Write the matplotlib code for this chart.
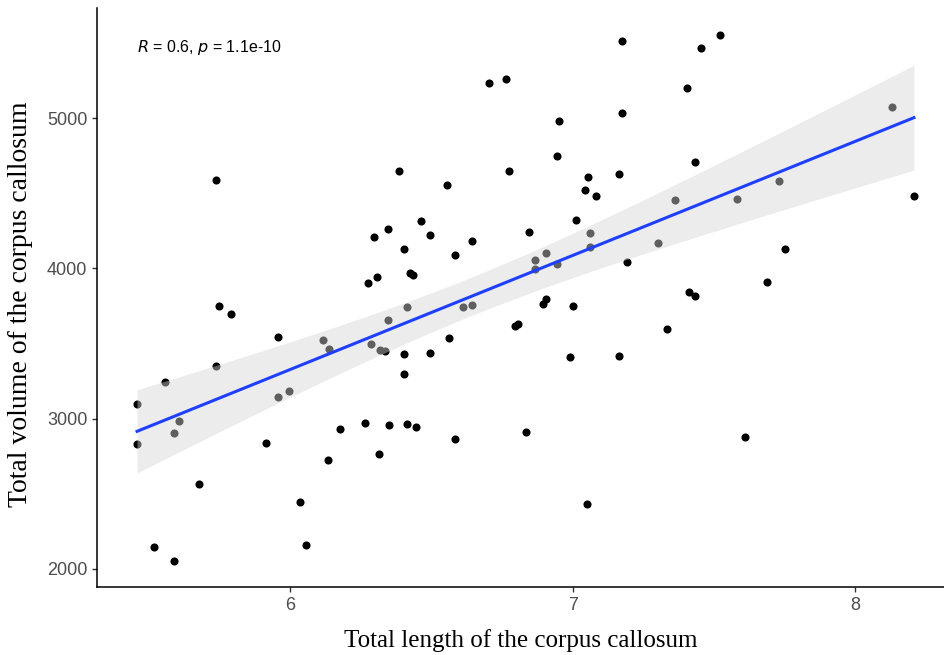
import numpy as np
import matplotlib

matplotlib.use("Agg")
import matplotlib.pyplot as plt

# corpus callosum length (x) and volume (y)
length = [
    5.457, 5.457, 5.556, 5.517, 5.588, 5.588, 5.605, 5.676, 5.736, 5.747,
    5.736, 5.789, 5.913, 5.956, 5.956, 5.995, 6.034, 6.055, 6.115, 6.136,
    6.133, 6.175, 6.264, 6.274, 6.296, 6.306, 6.285, 6.317, 6.335, 6.313,
    6.345, 6.345, 6.349, 6.384, 6.402, 6.402, 6.402, 6.412, 6.412, 6.423,
    6.434, 6.444, 6.462, 6.494, 6.494, 6.554, 6.561, 6.582, 6.582, 6.611,
    6.642, 6.642, 6.703, 6.763, 6.773, 6.795, 6.805, 6.834, 6.844, 6.865,
    6.865, 6.894, 6.904, 6.904, 6.943, 6.943, 6.950, 6.989, 7.000, 7.011,
    7.042, 7.050, 7.053, 7.060, 7.060, 7.081, 7.163, 7.163, 7.173, 7.173,
    7.191, 7.301, 7.333, 7.361, 7.404, 7.412, 7.432, 7.432, 7.454, 7.520,
    7.581, 7.609, 7.687, 7.729, 7.750, 8.129, 8.207,
]
volume = [
    3097, 2831, 3244, 2146, 2053, 2904, 2984, 2565, 4588, 3749,
    3350, 3696, 2838, 3543, 3144, 3184, 2446, 2160, 3523, 3463,
    2725, 2931, 2971, 3902, 4208, 3942, 3496, 3456, 3450, 2765,
    4262, 3656, 2958, 4647, 3430, 3297, 4128, 3743, 2964, 3969,
    3955, 2944, 4315, 4222, 3437, 4554, 3536, 4089, 2864, 3743,
    3756, 4182, 5233, 5259, 4647, 3616, 3629, 2911, 4242, 4055,
    3995, 3763, 3796, 4102, 4029, 4747, 4980, 3410, 3749, 4321,
    4521, 2433, 4607, 4235, 4142, 4481, 4627, 3417, 5512, 5033,
    4042, 4168, 3596, 4454, 5200, 3842, 3816, 4707, 5466, 5552,
    4461, 2878, 3909, 4581, 4128, 5073, 4481,
]
annot = "$R$ = 0.6, $p$ = 1.1e-10"
xticks = [6, 7, 8]
yticks = [2000, 3000, 4000, 5000]

x = np.array(length)
y = np.array(volume)

# linear fit + 95% confidence band (like geom_smooth(method = "lm"))
n = len(x)
b, a = np.polyfit(x, y, 1)
resid = y - (a + b * x)
s = np.sqrt((resid ** 2).sum() / (n - 2))
sxx = ((x - x.mean()) ** 2).sum()
t975 = 1.985
xs = np.linspace(x.min(), x.max(), 100)
fit = a + b * xs
half = t975 * s * np.sqrt(1 / n + (xs - x.mean()) ** 2 / sxx)

fig = plt.figure(figsize=(9.45, 6.55), dpi=100)
ax = fig.add_axes([0.1026, 0.1038, 0.8974, 0.884])

ax.scatter(x, y, s=34, color="black", linewidths=0, zorder=2)
# band drawn over the points, so points inside it look grey
ax.fill_between(xs, fit - half, fit + half, color="#d5d5d5", alpha=0.45,
                linewidth=0, zorder=3)
ax.plot(xs, fit, color="#1f3fff", lw=2.2, zorder=4)

ax.text(x.min(), 5470, annot, fontsize=11.5, family="Liberation Sans",
        color="black", ha="left", va="center")

ax.set_xlim(5.315, 8.317)
ax.set_ylim(1880, 5732)
ax.set_xticks(xticks)
ax.set_yticks(yticks)
ax.tick_params(labelsize=13, labelcolor="#4d4d4d", color="#333333",
               length=3.5, width=1.0)
for lab in ax.get_xticklabels() + ax.get_yticklabels():
    lab.set_family("Liberation Sans")

for side in ("top", "right"):
    ax.spines[side].set_visible(False)
for side in ("left", "bottom"):
    ax.spines[side].set_linewidth(1.1)
    ax.spines[side].set_color("black")

ax.set_xlabel("Total length of the corpus callosum", family="Liberation Serif",
              fontsize=18, labelpad=11)
ax.set_ylabel("Total volume of the corpus callosum", family="Liberation Serif",
              fontsize=20)
ax.yaxis.set_label_coords(-0.0755, 0.489)

fig.savefig("out.png", dpi=100)
